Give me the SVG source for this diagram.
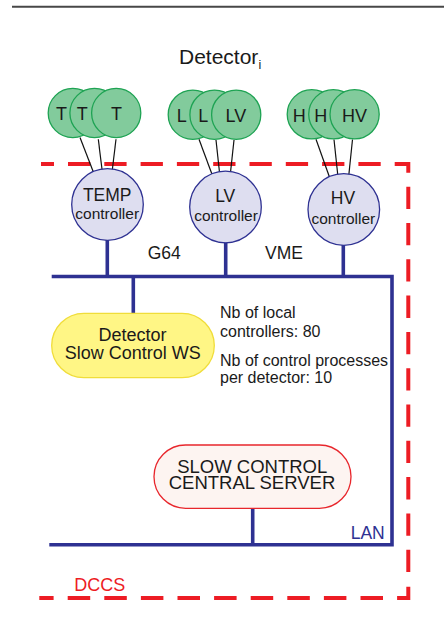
<svg xmlns="http://www.w3.org/2000/svg" width="444" height="642" viewBox="0 0 444 642">
<style>
text{font-family:"Liberation Sans",Arial,sans-serif;fill:#1a1a1a}
.sensor{fill:#82cb9c;stroke:#1ea353;stroke-width:1.3}
.ctrl{fill:#dedef0;stroke:#2e3192;stroke-width:1.3}
.wire{stroke:#111;stroke-width:1.2;fill:none}
.bus{stroke:#2e3192;stroke-width:3.6;fill:none;stroke-linejoin:miter}
.dash{stroke:#ed1c24;stroke-width:4;fill:none}
.s18{font-size:18px;text-anchor:middle}
.big{font-size:17.5px;text-anchor:middle}
.small{font-size:15.5px;text-anchor:middle}
.note{font-size:16px}
</style>
<rect width="444" height="642" fill="#ffffff"/>
<line x1="12" y1="6.7" x2="444" y2="6.7" stroke="#474747" stroke-width="2"/>
<g id="boundary">
<path class="dash" d="M41,164 H408.3 V575" stroke-dasharray="22.3 14" stroke-dashoffset="9.3"/>
<path class="dash" d="M408.3,586.7 V598 H39.3" stroke-dasharray="22.5 14.1"/>
</g>
<g id="connectors">
<line class="wire" x1="80" y1="137.5" x2="94.5" y2="175"/>
<line class="wire" x1="98.3" y1="139.3" x2="102.7" y2="175"/>
<line class="wire" x1="116" y1="139.3" x2="111.7" y2="175"/>
<line class="wire" x1="199" y1="139.3" x2="213" y2="177"/>
<line class="wire" x1="216" y1="140" x2="220" y2="177"/>
<line class="wire" x1="234" y1="140" x2="230" y2="177"/>
<line class="wire" x1="316" y1="139.3" x2="330.5" y2="180"/>
<line class="wire" x1="334" y1="139.5" x2="338.3" y2="180"/>
<line class="wire" x1="352.5" y1="139.5" x2="348.3" y2="180"/>
<path class="bus" d="M51.7,276.5 H392 V544.7 H49.3"/>
<line class="bus" x1="107.3" y1="240" x2="107.3" y2="276.5"/>
<line class="bus" x1="225.7" y1="242" x2="225.7" y2="276.5"/>
<line class="bus" x1="343.3" y1="245" x2="343.3" y2="276.5"/>
<line class="bus" x1="133.3" y1="276.5" x2="133.3" y2="314"/>
<line class="bus" x1="252.7" y1="508" x2="252.7" y2="544.7"/>
</g>
<g id="title"><text x="179" y="64.3" font-size="21">Detector<tspan font-size="12.5" dy="4.2">i</tspan></text></g>
<g id="temp-sensors">
<circle class="sensor" cx="72.8" cy="113" r="24.6"/><text class="s18" x="61.4" y="119.8">T</text>
<circle class="sensor" cx="94.5" cy="113" r="24.6"/><text class="s18" x="82.2" y="119.8">T</text>
<circle class="sensor" cx="116.2" cy="113" r="24.6"/><text class="s18" x="116.4" y="119.8">T</text>
</g>
<g id="lv-sensors">
<circle class="sensor" cx="192.8" cy="114.7" r="24.6"/><text x="176.7" y="121.7" font-size="18">L</text>
<circle class="sensor" cx="214.5" cy="114.7" r="24.6"/><text x="198.3" y="121.7" font-size="18">L</text>
<circle class="sensor" cx="236.2" cy="114.7" r="24.6"/><text class="s18" x="235.8" y="121.7">LV</text>
</g>
<g id="hv-sensors">
<circle class="sensor" cx="311.8" cy="114.3" r="24.6"/><text class="s18" x="299.2" y="121.7">H</text>
<circle class="sensor" cx="333.3" cy="114.3" r="24.6"/><text class="s18" x="320.8" y="121.7">H</text>
<circle class="sensor" cx="354.6" cy="114.3" r="24.6"/><text class="s18" x="354.5" y="121.7">HV</text>
</g>
<g id="temp-controller">
<circle class="ctrl" cx="107.5" cy="204.5" r="35.8"/>
<text class="big" x="107.2" y="200.7">TEMP</text>
<text class="small" x="107.2" y="219">controller</text>
</g>
<g id="lv-controller">
<circle class="ctrl" cx="225.5" cy="207" r="35.8"/>
<text class="big" x="225.2" y="201.7">LV</text>
<text class="small" x="226" y="220.7">controller</text>
</g>
<g id="hv-controller">
<circle class="ctrl" cx="343.8" cy="209.5" r="35.8"/>
<text class="big" x="343" y="204.3">HV</text>
<text class="small" x="343.3" y="224">controller</text>
</g>
<g id="bus-labels">
<text x="147.7" y="259" font-size="17.5">G64</text>
<text x="265" y="259" font-size="17.5">VME</text>
<text x="350.7" y="539" font-size="17.5" style="fill:#2e3192">LAN</text>
<text x="74.3" y="591" font-size="18" style="fill:#ed1c24">DCCS</text>
</g>
<g id="ws">
<rect x="51.7" y="313.3" width="162.6" height="64.4" rx="32.2" fill="#fff685" stroke="#f0dd3a" stroke-width="1.3"/>
<text class="s18" x="132.6" y="340.7">Detector</text>
<text class="s18" x="132.8" y="359.3">Slow Control WS</text>
</g>
<g id="notes">
<text class="note" x="220" y="318.3">Nb of local</text>
<text class="note" x="220" y="336.7">controllers: 80</text>
<text class="note" x="220" y="366">Nb of control processes</text>
<text class="note" x="220" y="383.3">per detector: 10</text>
</g>
<g id="server">
<rect x="154" y="445" width="197" height="63.3" rx="31.6" fill="#fdf4f1" stroke="#e8262c" stroke-width="1.3"/>
<text x="252.2" y="473.3" font-size="18.5" text-anchor="middle">SLOW CONTROL</text>
<text x="252" y="489.3" font-size="18.5" text-anchor="middle">CENTRAL SERVER</text>
</g>
</svg>
